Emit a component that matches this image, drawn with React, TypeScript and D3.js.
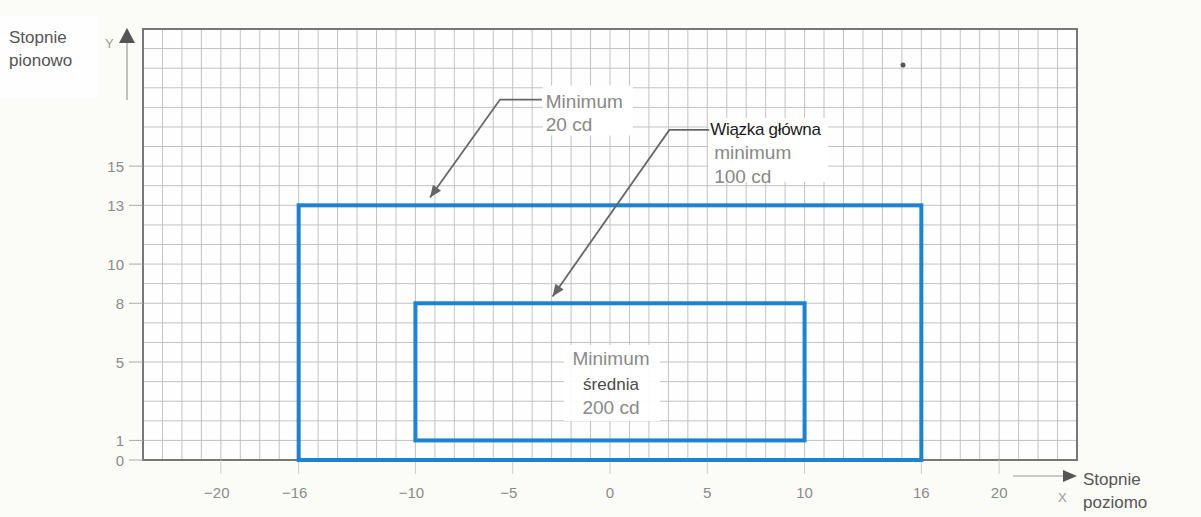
import React from "react";
import * as d3 from "d3";

const xDomain = [-24, 24];
const yDomain = [0, 22];
const xTicks = [-20, -16, -10, -5, 0, 5, 10, 16, 20];
const yTicks = [0, 1, 5, 8, 10, 13, 15];

const zoneNames = ["Minimum 20 cd", "Minimum średnia 200 cd"];
const zoneX0 = [-16, -10];
const zoneX1 = [16, 10];
const zoneY0 = [0, 1];
const zoneY1 = [13, 8];

// leader arrows: text anchor, knee, tip (data units)
const leaderText = [-3.3, 5.15];
const leaderTextY = [18.4, 16.85];
const leaderKneeX = [-5.65, 3.05];
const leaderTipX = [-9.25, -2.95];
const leaderTipY = [13.4, 8.35];

const W = 1201;
const H = 517;
const M = { left: 143, right: 1077, top: 29, bottom: 460 };

export default function App() {
  const x = d3.scaleLinear().domain(xDomain).range([M.left, M.right]);
  const y = d3.scaleLinear().domain(yDomain).range([M.bottom, M.top]);
  const gridX = d3.range(xDomain[0], xDomain[1] + 1, 1);
  const gridY = d3.range(yDomain[0], yDomain[1] + 1, 1);
  const font = "'Liberation Sans', Arial, sans-serif";
  const gray = "#8a8a8a";
  const dark = "#555";

  const arrowHead = (x1: number, y1: number, x2: number, y2: number, len = 12, wid = 5) => {
    const a = Math.atan2(y2 - y1, x2 - x1);
    const bx = x2 - len * Math.cos(a);
    const by = y2 - len * Math.sin(a);
    const px = -Math.sin(a) * wid;
    const py = Math.cos(a) * wid;
    return `M${x2},${y2}L${bx + px},${by + py}L${bx - px},${by - py}Z`;
  };

  const t1x = x(leaderText[0]);
  const t1y = y(leaderTextY[0]);
  const t2x = x(leaderText[1]);
  const t2y = y(leaderTextY[1]);

  return (
    <svg
      width={W}
      height={H}
      style={{ position: "absolute", left: 0, top: 0, display: "block", background: "#fbfcf7" }}
      fontFamily={font}
    >
      <rect x={0} y={0} width={W} height={H} fill="#fbfcf7" />
      <rect x={0} y={16} width={98} height={82} fill="#fefefe" />
      <rect x={M.left} y={M.top} width={M.right - M.left} height={M.bottom - M.top} fill="#fefefe" />
      {/* grid */}
      <g stroke="#c2c2c2" strokeWidth={1}>
        {gridX.map((v) => (
          <line key={"gx" + v} x1={x(v)} x2={x(v)} y1={M.top} y2={M.bottom} />
        ))}
        {gridY.map((v) => (
          <line key={"gy" + v} x1={M.left} x2={M.right} y1={y(v)} y2={y(v)} />
        ))}
      </g>
      {/* frame */}
      <rect
        x={M.left}
        y={M.top}
        width={M.right - M.left}
        height={M.bottom - M.top}
        fill="none"
        stroke="#777"
        strokeWidth={2}
      />
      {/* y ticks */}
      {yTicks.map((v) => (
        <g key={"yt" + v}>
          <line x1={129} x2={M.left} y1={y(v)} y2={y(v)} stroke="#aaa" strokeWidth={1} />
          <text x={124} y={y(v) + 5.5} textAnchor="end" fontSize={15} fill={gray}>
            {v}
          </text>
        </g>
      ))}
      {/* x ticks */}
      {xTicks.map((v) => (
        <g key={"xt" + v}>
          <line x1={x(v)} x2={x(v)} y1={M.bottom} y2={M.bottom + 14} stroke="#ccc" strokeWidth={1} />
          <text x={x(v) - (v < 0 ? 4 : 0)} y={498} textAnchor="middle" fontSize={15} fill={gray}>
            {v < 0 ? "\u2212" + Math.abs(v) : v}
          </text>
        </g>
      ))}
      {/* zones */}
      {zoneNames.map((n, i) => (
        <rect
          key={n}
          x={x(zoneX0[i])}
          y={y(zoneY1[i])}
          width={x(zoneX1[i]) - x(zoneX0[i])}
          height={y(zoneY0[i]) - y(zoneY1[i])}
          fill="none"
          stroke="#1b82d4"
          strokeWidth={4}
        />
      ))}
      {/* inner label */}
      <rect x={564} y={345} width={96} height={76} fill="#ffffff" opacity={0.92} />
      <text x={x(0) + 1} y={365} textAnchor="middle" fontSize={19} fill="#8a8a8a">Minimum</text>
      <text x={x(0) + 1} y={390} textAnchor="middle" fontSize={17} fill="#4a4a4a">średnia</text>
      <text x={x(0) + 1} y={414} textAnchor="middle" fontSize={19} fill="#8a8a8a">200 cd</text>

      {/* leader 1 */}
      <rect x={t1x - 3} y={t1y - 14} width={90} height={50} fill="#ffffff" />
      <text x={t1x} y={t1y + 8} fontSize={19} fill="#888">Minimum</text>
      <text x={t1x} y={t1y + 31} fontSize={19} fill="#888">20 cd</text>
      <path
        d={`M${t1x - 4},${t1y}L${x(leaderKneeX[0])},${t1y}L${x(leaderTipX[0])},${y(leaderTipY[0])}`}
        fill="none"
        stroke="#666"
        strokeWidth={1.8}
      />
      <path d={arrowHead(x(leaderKneeX[0]), t1y, x(leaderTipX[0]), y(leaderTipY[0]))} fill="#666" />

      {/* leader 2 */}
      <rect x={t2x - 2} y={t2y - 12} width={120} height={64} fill="#ffffff" />
      <text x={t2x} y={t2y + 5} fontSize={17} fill="#1a1a1a" letterSpacing={-0.3}>Wiązka główna</text>
      <text x={t2x + 4} y={t2y + 29} fontSize={19} fill="#888">minimum</text>
      <text x={t2x + 4} y={t2y + 53} fontSize={19} fill="#888">100 cd</text>
      <path
        d={`M${t2x - 1},${t2y}L${x(leaderKneeX[1])},${t2y}L${x(leaderTipX[1])},${y(leaderTipY[1])}`}
        fill="none"
        stroke="#666"
        strokeWidth={1.8}
      />
      <path d={arrowHead(x(leaderKneeX[1]), t2y, x(leaderTipX[1]), y(leaderTipY[1]))} fill="#666" />

      {/* dot */}
      <circle cx={903} cy={65} r={2.5} fill="#555" />

      {/* Y axis arrow */}
      <line x1={127} x2={127} y1={100} y2={40} stroke="#999" strokeWidth={1.2} />
      <path d={arrowHead(127, 100, 127, 28, 15, 8)} fill={dark} />
      <text x={105} y={48} fontSize={13} fill="#999">Y</text>
      <text x={9} y={43} fontSize={17} fill="#555">Stopnie</text>
      <text x={9} y={66} fontSize={17} fill="#555">pionowo</text>

      {/* X axis arrow */}
      <line x1={1013} x2={1065} y1={476} y2={476} stroke="#999" strokeWidth={1.2} />
      <path d={arrowHead(1013, 476, 1077, 476, 14, 6)} fill={dark} />
      <text x={1058} y={502} fontSize={13} fill="#999">X</text>
      <text x={1083} y={485} fontSize={17} fill="#555">Stopnie</text>
      <text x={1083} y={508} fontSize={17} fill="#555">poziomo</text>
    </svg>
  );
}
